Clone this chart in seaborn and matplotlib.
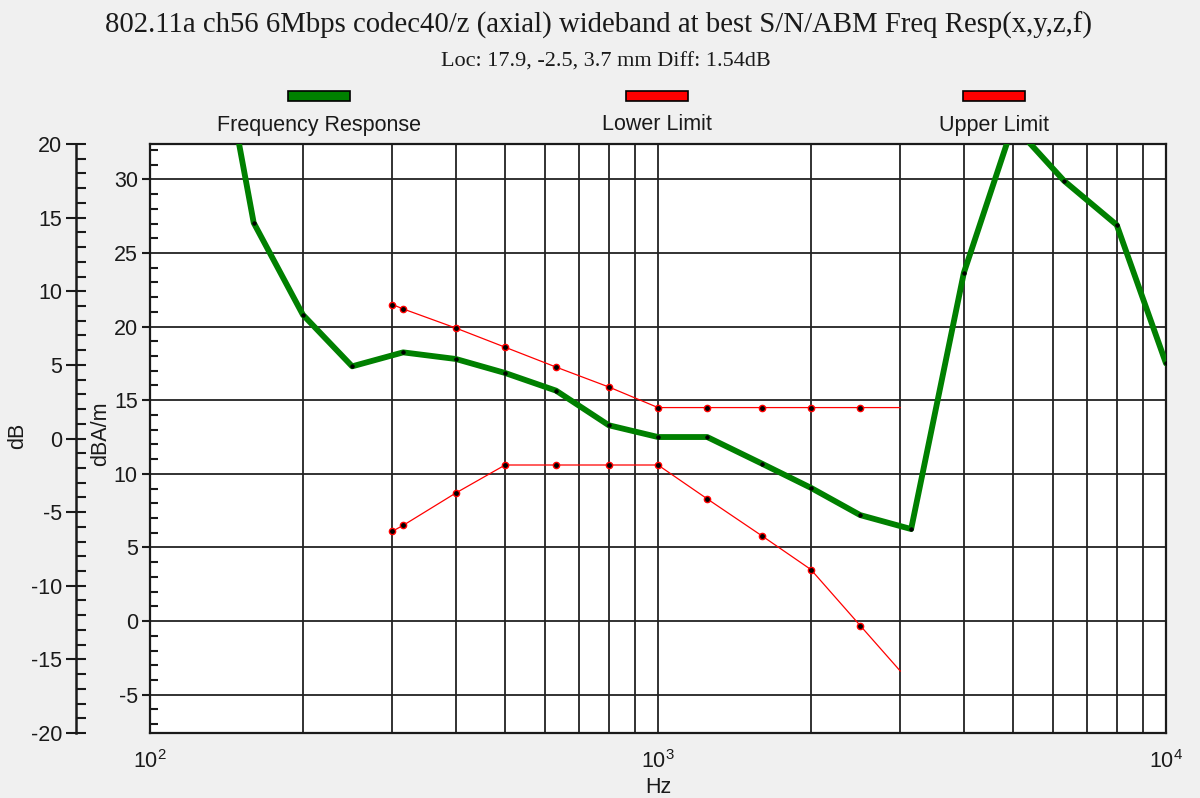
import matplotlib
matplotlib.use("Agg")
import matplotlib.pyplot as plt
import matplotlib.ticker as mticker
from matplotlib.patches import Rectangle
import seaborn as sns

# Titles
TITLE = "802.11a ch56 6Mbps codec40/z (axial) wideband at best S/N/ABM Freq Resp(x,y,z,f)"
SUBTITLE = "Loc: 17.9, -2.5, 3.7 mm Diff: 1.54dB"

# Measured frequency response (dBA/m), 1/3-octave bands
resp_hz = [125, 160, 200, 250, 315, 400, 500, 630, 800, 1000,
           1250, 1600, 2000, 2500, 3150, 4000, 5000, 6300, 8000, 10000]
resp_dba = [47.0, 27.05, 20.8, 17.3, 18.25, 17.8, 16.85, 15.65, 13.3, 12.5,
            12.5, 10.7, 9.05, 7.2, 6.25, 23.65, 33.7, 29.9, 26.9, 17.5]

# Limit masks
lower_hz = [300, 315, 400, 500, 630, 800, 1000, 1250, 1600, 2000, 2500, 3000]
lower_dba = [6.1, 6.5, 8.7, 10.6, 10.6, 10.6, 10.6, 8.3, 5.8, 3.5, -0.3, -3.4]
upper_hz = [300, 315, 400, 500, 630, 800, 1000, 1250, 1600, 2000, 2500, 3000]
upper_dba = [21.5, 21.2, 19.9, 18.6, 17.25, 15.9, 14.5, 14.5, 14.5, 14.5, 14.5, 14.5]

legend_labels = ["Frequency Response", "Lower Limit", "Upper Limit"]
legend_colors = ["#008000", "#ff0000", "#ff0000"]

sns.set_style("white")
plt.rcParams["font.family"] = ["Liberation Sans", "DejaVu Sans"]
plt.rcParams["mathtext.default"] = "regular"
plt.rcParams["axes.unicode_minus"] = False

BG = "#f0f0f0"
INK = "#1a1a1a"
FS = 15.5

fig = plt.figure(figsize=(12, 7.98), dpi=100, facecolor=BG)
ax = fig.add_axes([150 / 1200, 65 / 798, 1016 / 1200, 589 / 798])
ax.set_facecolor("white")
ax.set_xscale("log")
ax.set_xlim(100, 10000)
ax.set_ylim(-7.6, 32.4)
ax.set_axisbelow(True)

# Limit lines
for hz, vals in [(lower_hz, lower_dba), (upper_hz, upper_dba)]:
    sns.lineplot(x=hz, y=vals, ax=ax, color="#ff0000", lw=0.9, estimator=None,
                 marker="o", markersize=4.5, markerfacecolor="black",
                 markeredgecolor="#ff0000", markeredgewidth=1.0,
                 markevery=list(range(len(hz) - 1)), zorder=3)

# Frequency response
sns.lineplot(x=resp_hz, y=resp_dba, ax=ax, color="#008000", lw=4.2, estimator=None,
             marker="o", markersize=2.6, markerfacecolor="black",
             markeredgecolor="black", markeredgewidth=0.5, zorder=4)

# Grid and ticks of the inner (dBA/m) axis
ax.xaxis.set_major_locator(mticker.FixedLocator([100, 1000, 10000]))
ax.xaxis.set_major_formatter(mticker.FixedFormatter(["$10^{2}$", "$10^{3}$", "$10^{4}$"]))
ax.xaxis.set_minor_locator(mticker.LogLocator(base=10, subs=range(2, 10), numticks=20))
ax.xaxis.set_minor_formatter(mticker.NullFormatter())
ax.yaxis.set_major_locator(mticker.MultipleLocator(5))
ax.yaxis.set_minor_locator(mticker.MultipleLocator(1))

ax.grid(which="both", axis="x", color="#222222", lw=1.3)
ax.grid(which="major", axis="y", color="#222222", lw=1.3)
ax.tick_params(axis="y", which="major", direction="out", length=5.8, width=1.5,
               labelsize=FS, pad=3, colors=INK)
ax.tick_params(axis="y", which="minor", direction="in", length=5.8, width=1.5, colors=INK)
ax.tick_params(axis="x", which="major", direction="out", length=8.6, width=1.5,
               labelsize=FS, pad=4, colors=INK)
ax.tick_params(axis="x", which="minor", length=0)
for sp in ax.spines.values():
    sp.set_linewidth(1.6)
    sp.set_color(INK)

ax.set_ylabel("dBA/m", fontsize=FS, color=INK, va="center")
ax.yaxis.set_label_coords(-0.0482, 0.5076)
ax.set_xlabel("Hz", fontsize=FS, color=INK, va="center")
ax.xaxis.set_label_coords(0.5, -0.0917)

# Outer dB axis
ax2 = ax.twinx()
ax2.set_ylim(-20, 20)
ax2.yaxis.tick_left()
ax2.yaxis.set_label_position("left")
ax2.spines["left"].set_position(("outward", 53.3))
ax2.spines["left"].set_visible(True)
ax2.spines["left"].set_linewidth(1.8)
ax2.spines["left"].set_color(INK)
for side in ["right", "top", "bottom"]:
    ax2.spines[side].set_visible(False)
ax2.yaxis.set_major_locator(mticker.MultipleLocator(5))
ax2.yaxis.set_minor_locator(mticker.MultipleLocator(1))
ax2.tick_params(axis="y", which="major", direction="inout", length=13.7, width=1.5,
                labelsize=FS, pad=3, colors=INK)
ax2.tick_params(axis="y", which="minor", direction="in", length=7, width=1.5, colors=INK)
ax2.set_ylabel("dB", fontsize=FS, color=INK, va="center")
ax2.yaxis.set_label_coords(-0.130, 0.504)

# Titles
fig.text(0.499, 0.9687, TITLE, ha="center", va="center", fontsize=20.7,
         family="Liberation Serif", color=INK)
fig.text(0.505, 0.9223, SUBTITLE, ha="center", va="center", fontsize=16,
         family="Liberation Serif", color=INK)

# Legend drawn above the plot: swatch over label
for cx, label, col in zip([319, 657, 994], legend_labels, legend_colors):
    fig.patches.append(Rectangle(((cx - 31) / 1200, 1 - 101 / 798), 62 / 1200, 10 / 798,
                                 transform=fig.transFigure, facecolor=col,
                                 edgecolor="black", lw=1.2))
    fig.text(cx / 1200, 1 - 125 / 798, label, ha="center", va="center",
             fontsize=FS, color=INK)

fig.savefig("out.png", dpi=100, facecolor=BG)
